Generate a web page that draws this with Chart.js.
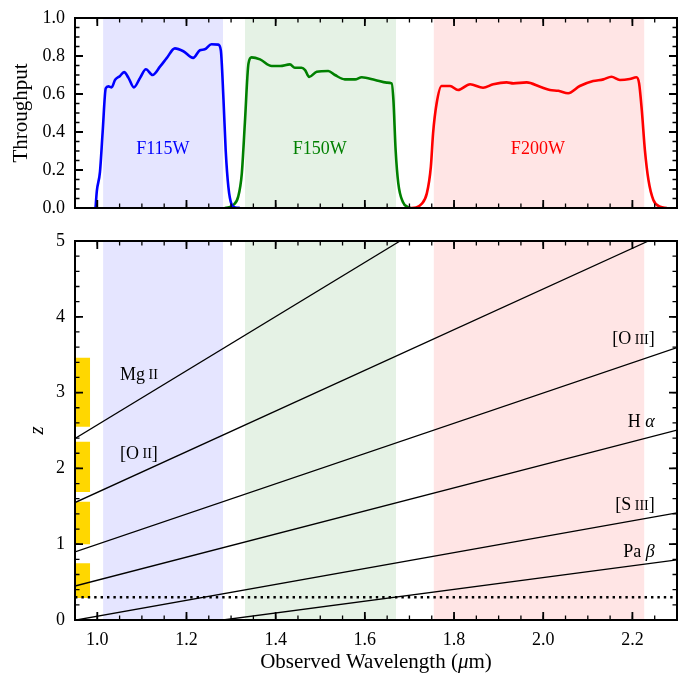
<!DOCTYPE html>
<html>
<head>
<meta charset="utf-8">
<script src="https://cdn.jsdelivr.net/npm/chart.js@4.4.1/dist/chart.umd.min.js"></script>
<style>
  html, body { margin: 0; padding: 0; background: #fff; }
  #wrap { position: relative; width: 687px; height: 675px; }
  #top { position: absolute; left: 0; top: 0; }
  #bot { position: absolute; left: 0; top: 230px; }
</style>
</head>
<body>
<div id="wrap">
  <canvas id="top" width="687" height="230"></canvas>
  <canvas id="bot" width="687" height="445"></canvas>
</div>
<script>
// ---- data ----
const xTicks = [1.0, 1.2, 1.4, 1.6, 1.8, 2.0, 2.2];
const thruTicks = [0.0, 0.2, 0.4, 0.6, 0.8, 1.0];
const zTicks = [0, 1, 2, 3, 4, 5];

const filterNames = ["F115W", "F150W", "F200W"];
const filterColors = ["#0000ff", "#008000", "#ff0000"];
const filterShade = ["rgba(0,0,255,0.1)", "rgba(0,128,0,0.1)", "rgba(255,0,0,0.1)"];
const filterLo = [1.013, 1.331, 1.754];
const filterHi = [1.282, 1.670, 2.227];
const filterLabelX = [1.147, 1.499, 1.988];
const filterLabelY = [0.31, 0.31, 0.31];

const f115Wave = [0.996, 0.999, 1.006, 1.012, 1.019, 1.025, 1.032, 1.040, 1.051, 1.060, 1.070, 1.082,
  1.096, 1.109, 1.124, 1.141, 1.156, 1.174, 1.193, 1.215, 1.230, 1.241, 1.256, 1.271, 1.277,
  1.283, 1.288, 1.294, 1.301, 1.309, 1.320];
const f115Thru = [0.0, 0.09, 0.19, 0.40, 0.63, 0.64, 0.635, 0.675, 0.695, 0.715, 0.685, 0.635,
  0.685, 0.73, 0.70, 0.745, 0.79, 0.84, 0.825, 0.79, 0.83, 0.835, 0.862, 0.86, 0.83,
  0.57, 0.30, 0.11, 0.02, 0.003, 0.0];

const f150Wave = [1.286, 1.296, 1.305, 1.316, 1.324, 1.331, 1.339, 1.346, 1.365, 1.391, 1.410, 1.432,
  1.443, 1.458, 1.466, 1.475, 1.492, 1.518, 1.533, 1.555, 1.578, 1.593, 1.623, 1.649, 1.660,
  1.664, 1.669, 1.675, 1.685, 1.697, 1.702];
const f150Thru = [0.0, 0.004, 0.016, 0.06, 0.18, 0.45, 0.76, 0.793, 0.782, 0.747, 0.747, 0.756,
  0.738, 0.738, 0.726, 0.69, 0.717, 0.721, 0.70, 0.677, 0.677, 0.688, 0.674, 0.66, 0.656,
  0.57, 0.305, 0.13, 0.033, 0.004, 0.0];

const f200Wave = [1.701, 1.715, 1.727, 1.739, 1.748, 1.753, 1.761, 1.772, 1.791, 1.809, 1.836, 1.865,
  1.888, 1.918, 1.933, 1.963, 1.993, 2.015, 2.034, 2.056, 2.082, 2.112, 2.135, 2.153, 2.172,
  2.194, 2.209, 2.215, 2.221, 2.228, 2.236, 2.247, 2.262, 2.277];
const f200Thru = [0.0, 0.003, 0.021, 0.077, 0.217, 0.393, 0.551, 0.642, 0.642, 0.621, 0.651, 0.633,
  0.651, 0.661, 0.656, 0.661, 0.638, 0.621, 0.617, 0.604, 0.642, 0.668, 0.677, 0.691, 0.674,
  0.679, 0.688, 0.656, 0.516, 0.305, 0.147, 0.042, 0.007, 0.0];

// emission lines: [wavelength, z] at the two ends seen in the plot
const lineEnds = [
  [[0.95, 2.395], [1.679, 5.0]],   // Mg II
  [[0.95, 1.549], [2.236, 5.0]],   // [O II]
  [[0.95, 0.897], [2.30, 3.594]],  // [O III]
  [[0.95, 0.448], [2.30, 2.505]],  // H alpha
  [[0.95, -0.003], [2.30, 1.413]], // [S III]
  [[1.282, 0.0], [2.30, 0.794]],   // Pa beta
];
const lineLabels = [
  [["Mg", "n"], [" II", "s"]],
  [["[O", "n"], [" II", "s"], ["]", "n"]],
  [["[O", "n"], [" III", "s"], ["]", "n"]],
  [["H ", "n"], ["\u03b1", "i"]],
  [["[S", "n"], [" III", "s"], ["]", "n"]],
  [["Pa ", "n"], ["\u03b2", "i"]],
];
const lineLabelX = [1.051, 1.051, 2.25, 2.25, 2.25, 2.25];
const lineLabelZ = [3.23, 2.19, 3.70, 2.61, 1.51, 0.90];
const lineLabelAlign = ["left", "left", "right", "right", "right", "right"];

// yellow z-ranges on the left edge
const boxLo = [0.29, 1.00, 1.69, 2.55];
const boxHi = [0.75, 1.56, 2.35, 3.46];
const boxX = [0.95, 0.984];
const zCut = 0.3;

const X_MIN = 0.95, X_MAX = 2.30;
const SERIF = '"Liberation Serif", "Times New Roman", "DejaVu Serif", serif';

Chart.defaults.font.family = SERIF;
Chart.defaults.color = "#000";

function minorVals(lo, hi, step) {
  const out = [];
  for (let v = lo; v <= hi + 1e-9; v += step) out.push(+v.toFixed(4));
  return out;
}

// inward ticks on all four sides + frame
const frameTicks = {
  id: "frameTicks",
  afterDraw(chart, args, opts) {
    const { ctx, chartArea: a, scales } = chart;
    ctx.save();
    ctx.strokeStyle = "#000";
    const draw = (scale, values, len, w) => {
      ctx.lineWidth = w;
      ctx.beginPath();
      values.forEach((v) => {
        const p = scale.getPixelForValue(v);
        if (scale.isHorizontal()) {
          ctx.moveTo(p, a.bottom); ctx.lineTo(p, a.bottom - len);
          ctx.moveTo(p, a.top); ctx.lineTo(p, a.top + len);
        } else {
          ctx.moveTo(a.left, p); ctx.lineTo(a.left + len, p);
          ctx.moveTo(a.right, p); ctx.lineTo(a.right - len, p);
        }
      });
      ctx.stroke();
    };
    draw(scales.x, opts.xMinor, 4.5, 1.3);
    draw(scales.x, xTicks, 8, 1.8);
    draw(scales.y, opts.yMinor, 4.5, 1.3);
    draw(scales.y, opts.yMajor, 8, 1.8);
    ctx.lineWidth = 2;
    ctx.strokeRect(a.left, a.top, a.right - a.left, a.bottom - a.top);
    ctx.restore();
  },
};

// mixed-style text: data-coordinate labels, plus an optional x-axis title
function drawParts(ctx, parts, x, y, size, align, color) {
  const fonts = {
    n: size + "px " + SERIF,
    s: Math.round(size * 0.78) + "px " + SERIF,
    i: "italic " + size + "px " + SERIF,
  };
  let total = 0;
  parts.forEach(([t, k]) => { ctx.font = fonts[k]; total += ctx.measureText(t).width; });
  if (align === "right") x -= total;
  else if (align === "center") x -= total / 2;
  ctx.fillStyle = color || "#000";
  ctx.textAlign = "left";
  ctx.textBaseline = "middle";
  parts.forEach(([t, k]) => {
    ctx.font = fonts[k];
    ctx.fillText(t, x, y + (k === "s" ? 0.5 : 0));
    x += ctx.measureText(t).width;
  });
}

const textLabels = {
  id: "textLabels",
  afterDatasetsDraw(chart, args, opts) {
    const { ctx, scales, chartArea: a } = chart;
    ctx.save();
    (opts.items || []).forEach((it) => {
      drawParts(ctx, it.parts, scales.x.getPixelForValue(it.x), scales.y.getPixelForValue(it.y),
        18, it.align, it.color);
    });
    if (opts.xTitle) {
      drawParts(ctx, opts.xTitle, (a.left + a.right) / 2, scales.x.bottom - 12.6, 21, "center", "#000");
    }
    ctx.restore();
  },
};

function bandDatasets(yTop) {
  return filterNames.map((n, i) => ({
    data: [{ x: filterLo[i], y: yTop }, { x: filterHi[i], y: yTop }],
    borderWidth: 0,
    pointRadius: 0,
    backgroundColor: filterShade[i],
    fill: { value: 0 },
  }));
}

function xScale(showLabels) {
  return {
    type: "linear",
    min: X_MIN,
    max: X_MAX,
    afterBuildTicks: (s) => { s.ticks = xTicks.map((v) => ({ value: v })); },
    afterFit: (s) => {
      s.height = showLabels ? 55 : 22;
      s.paddingLeft = 0; s.paddingRight = 0;
    },
    grid: { display: false, drawTicks: false },
    border: { display: false },
    ticks: {
      display: showLabels,
      padding: 9,
      font: { size: 18 },
      callback: (v) => v.toFixed(1),
    },
  };
}

function yFit(s) {
  s.width = 75;
  s.paddingTop = 0; s.paddingBottom = 0;
}

// ---- top panel: throughput ----
const curves = [[f115Wave, f115Thru], [f150Wave, f150Thru], [f200Wave, f200Thru]];
const topSets = curves.map(([w, t], i) => ({
  data: w.map((x, k) => ({ x, y: t[k] })),
  borderColor: filterColors[i],
  borderWidth: 2.6,
  pointRadius: 0,
  fill: false,
  cubicInterpolationMode: "monotone",
}));

new Chart(document.getElementById("top"), {
  type: "line",
  data: { datasets: [...topSets, ...bandDatasets(1.0)] },
  options: {
    responsive: false,
    animation: false,
    layout: { padding: { top: 18, right: 10, left: 0, bottom: 0 } },
    plugins: {
      legend: { display: false },
      tooltip: { enabled: false },
      frameTicks: { xMinor: minorVals(0.95, 2.3, 0.05), yMinor: minorVals(0, 1, 0.05), yMajor: thruTicks },
      textLabels: {
        items: filterNames.map((n, i) => ({
          parts: [[n, "n"]], x: filterLabelX[i], y: filterLabelY[i], align: "center", color: filterColors[i],
        })),
      },
    },
    scales: {
      x: xScale(false),
      y: {
        min: 0,
        max: 1,
        afterBuildTicks: (s) => { s.ticks = thruTicks.map((v) => ({ value: v })); },
        afterFit: yFit,
        grid: { display: false, drawTicks: false },
        border: { display: false },
        ticks: { padding: 10, font: { size: 18 }, callback: (v) => v.toFixed(1) },
        title: { display: true, text: "Throughput", font: { size: 21 }, padding: { top: 9, bottom: 0 } },
      },
    },
  },
  plugins: [frameTicks, textLabels],
});

// ---- bottom panel: redshift vs wavelength ----
const lineSets = lineEnds.map((pts) => ({
  data: pts.map(([x, y]) => ({ x, y })),
  borderColor: "#000",
  borderWidth: 1.3,
  pointRadius: 0,
  fill: false,
}));
const cutSet = {
  data: [{ x: X_MIN, y: zCut }, { x: X_MAX, y: zCut }],
  borderColor: "#000",
  borderWidth: 2.4,
  borderDash: [2.4, 4.0],
  borderCapStyle: "butt",
  pointRadius: 0,
  fill: false,
};
const boxSets = boxLo.map((lo, i) => ({
  data: [{ x: boxX[0], y: boxHi[i] }, { x: boxX[1], y: boxHi[i] }],
  borderWidth: 0,
  pointRadius: 0,
  backgroundColor: "#ffd700",
  fill: { value: lo },
}));

new Chart(document.getElementById("bot"), {
  type: "line",
  data: { datasets: [cutSet, ...lineSets, ...boxSets, ...bandDatasets(5)] },
  options: {
    responsive: false,
    animation: false,
    layout: { padding: { top: 11, right: 10, left: 0, bottom: 0 } },
    plugins: {
      legend: { display: false },
      tooltip: { enabled: false },
      frameTicks: { xMinor: minorVals(0.95, 2.3, 0.05), yMinor: minorVals(0, 5, 0.2), yMajor: zTicks },
      textLabels: {
        items: lineLabels.map((parts, i) => ({
          parts, x: lineLabelX[i], y: lineLabelZ[i], align: lineLabelAlign[i],
        })),
        xTitle: [["Observed Wavelength (", "n"], ["\u03bc", "i"], ["m)", "n"]],
      },
    },
    scales: {
      x: xScale(true),
      y: {
        min: 0,
        max: 5,
        afterBuildTicks: (s) => { s.ticks = zTicks.map((v) => ({ value: v })); },
        afterFit: yFit,
        grid: { display: false, drawTicks: false },
        border: { display: false },
        ticks: { padding: 10, font: { size: 18 } },
        title: {
          display: true, text: "z",
          font: { size: 21, style: "italic" },
          padding: { top: 25, bottom: 0 },
        },
      },
    },
  },
  plugins: [frameTicks, textLabels],
});
</script>
</body>
</html>
